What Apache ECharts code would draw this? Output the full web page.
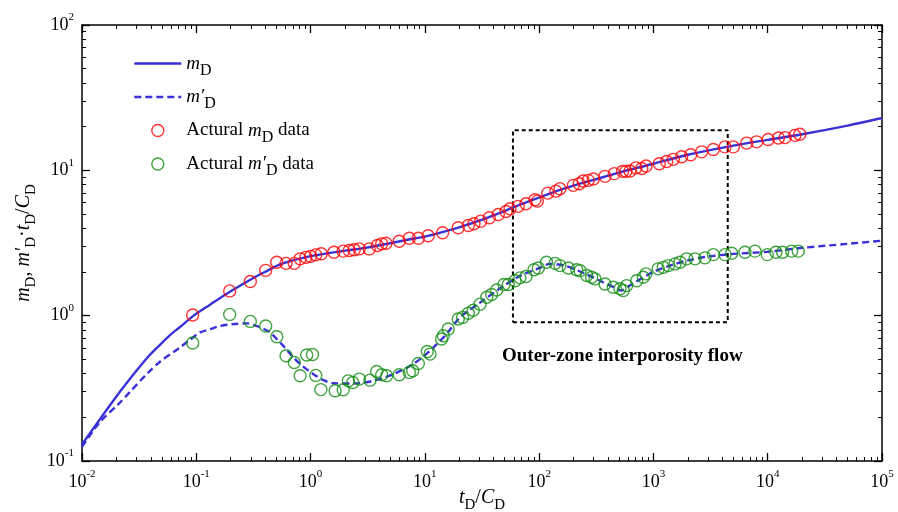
<!DOCTYPE html>
<html>
<head>
<meta charset="utf-8">
<script src="https://cdn.jsdelivr.net/npm/echarts@6/dist/echarts.min.js"></script>
<style>
  html, body { margin: 0; padding: 0; background: #fff; }
  #chart { width: 898px; height: 512px; }
</style>
</head>
<body>
<div id="chart"></div>
<script>
// Axis ranges (log scales)
const xRange = [0.01, 1e5];
const yRange = [0.1, 100];

// Model curve m_D  [tD/CD, mD]
const mdCurve = [
  [0.01, 0.13], [0.0187, 0.259], [0.0263, 0.368], [0.0371, 0.512], [0.0481, 0.63],
  [0.0589, 0.735], [0.072, 0.835], [0.0935, 0.993], [0.132, 1.19], [0.197, 1.46],
  [0.333, 1.86], [0.42, 2.04], [0.54, 2.25], [0.7, 2.4], [1.0, 2.57], [2.0, 2.8],
  [3.0, 2.93], [5.0, 3.15], [7.0, 3.33], [10, 3.5], [15, 3.8], [20, 4.05],
  [30, 4.5], [50, 5.25], [70, 5.85], [100, 6.5], [150, 7.3], [200, 7.85],
  [300, 8.6], [500, 9.65], [1000, 11.1], [2000, 12.8], [5000, 14.8],
  [10000, 16.2], [20000, 17.7], [50000, 20.3], [100000, 22.9]
];

// Model derivative curve m'_D·tD/CD
const dmdCurve = [
  [0.01, 0.125], [0.0144, 0.186], [0.0208, 0.246], [0.0263, 0.299], [0.0368, 0.396],
  [0.0481, 0.482], [0.072, 0.604], [0.0881, 0.683], [0.108, 0.767], [0.132, 0.807],
  [0.161, 0.85], [0.21, 0.875], [0.276, 0.885], [0.35, 0.84], [0.44, 0.77],
  [0.506, 0.69], [0.6, 0.6], [0.7, 0.52], [0.85, 0.45], [1.06, 0.396],
  [1.3, 0.36], [1.58, 0.343], [2.34, 0.341], [3.54, 0.356], [5.3, 0.396],
  [7.92, 0.465], [11.1, 0.574], [15.5, 0.748], [20.3, 0.973], [30, 1.22],
  [50, 1.62], [70, 1.9], [100, 2.12], [124, 2.27], [170, 2.2], [250, 1.95],
  [350, 1.72], [450, 1.57], [520, 1.49], [650, 1.65], [1000, 2.0], [1500, 2.25],
  [2000, 2.4], [3000, 2.55], [5000, 2.66], [10000, 2.75], [20000, 2.93],
  [50000, 3.12], [100000, 3.28]
];

// Measured m_D data
const mdData = [
  [0.093, 1.01], [0.196, 1.48], [0.297, 1.72], [0.405, 2.05], [0.506, 2.33],
  [0.61, 2.29], [0.72, 2.29], [0.81, 2.46], [0.91, 2.52], [1.0, 2.56],
  [1.11, 2.62], [1.24, 2.67], [1.60, 2.73], [1.93, 2.78], [2.18, 2.81],
  [2.41, 2.84], [2.67, 2.88], [3.26, 2.88], [3.84, 3.04], [4.19, 3.12],
  [4.57, 3.15], [5.97, 3.25], [7.31, 3.41], [8.77, 3.41], [10.7, 3.55],
  [14.3, 3.72], [19.6, 4.03], [24.0, 4.17], [26.9, 4.29], [30.8, 4.47],
  [36.6, 4.72], [43.9, 4.97], [51.3, 5.21], [55.6, 5.44], [65.6, 5.65],
  [76.7, 5.89], [92.0, 6.28], [96.4, 6.14], [119, 6.97], [140, 7.19],
  [152, 7.48], [199, 7.88], [224, 8.09], [243, 8.44], [269, 8.53],
  [298, 8.71], [377, 9.09], [454, 9.49], [538, 9.84], [575, 9.84],
  [624, 9.89], [703, 10.4], [790, 10.3], [861, 10.7], [1125, 11.1],
  [1306, 11.5], [1493, 11.9], [1766, 12.4], [2118, 12.8], [2644, 13.4],
  [3342, 13.9], [4227, 14.5], [5000, 14.5], [6546, 15.4], [8000, 15.7],
  [10100, 16.3], [12400, 16.7], [14200, 16.8], [17300, 17.4], [19100, 17.7]
];

// Measured m'_D data
const dmdData = [
  [0.093, 0.648], [0.196, 1.02], [0.297, 0.913], [0.405, 0.849], [0.506, 0.716],
  [0.61, 0.530], [0.72, 0.476], [0.81, 0.386], [0.925, 0.536], [1.04, 0.541],
  [1.11, 0.388], [1.23, 0.310], [1.64, 0.304], [1.93, 0.309], [2.14, 0.356],
  [2.34, 0.347], [2.67, 0.366], [3.31, 0.360], [3.79, 0.413], [4.19, 0.392],
  [4.63, 0.386], [5.97, 0.392], [7.31, 0.407], [7.83, 0.418], [8.77, 0.469],
  [10.5, 0.567], [11.1, 0.544], [14.0, 0.691], [14.5, 0.728], [16.0, 0.809],
  [19.6, 0.949], [21.4, 0.973], [24.0, 1.04], [26.5, 1.09], [30.4, 1.20],
  [34.8, 1.34], [38.4, 1.40], [42.5, 1.50], [49.2, 1.64], [53.7, 1.64],
  [61.5, 1.74], [67.9, 1.82], [76.7, 1.86], [90.2, 2.07], [98.4, 2.13],
  [116, 2.33], [138, 2.29], [152, 2.21], [180, 2.13], [213, 2.07],
  [228, 2.04], [261, 1.89], [288, 1.84], [308, 1.79], [377, 1.65],
  [445, 1.57], [510, 1.53], [545, 1.49], [583, 1.61], [714, 1.74],
  [815, 1.84], [861, 1.94], [1102, 2.10], [1220, 2.15], [1349, 2.21],
  [1545, 2.27], [1708, 2.33], [1954, 2.46], [2312, 2.46], [2825, 2.50],
  [3342, 2.63], [4227, 2.63], [4842, 2.69], [6324, 2.73], [7740, 2.78],
  [9910, 2.63], [11800, 2.73], [13500, 2.73], [16200, 2.78], [18500, 2.78]
];

// Highlighted region (outer-zone interporosity flow)
const regionBox = [[59, 0.9], [4470, 0.9], [4470, 18.9], [59, 18.9], [59, 0.9]];
const regionText = 'Outer-zone interporosity flow';

// Legend labels
const legendNames = ['md', 'dmd', 'mdData', 'dmdData'];
const legendLabels = {
  md: '{i|m}{s|D}',
  dmd: '{i|m\u2032}{s|D}',
  mdData: '{n|Actural }{i|m}{s|D}{n| data}',
  dmdData: '{n|Actural }{i|m\u2032}{s|D}{n| data}'
};

const SERIF = '"Liberation Serif", "Times New Roman", serif';
const BLUE = '#3a32d8';
const RED = '#ff0000';
const GREEN = '#128c12';

function textRich(size, subSize, lineH) {
  return {
    i: { fontFamily: SERIF, fontStyle: 'italic', fontSize: size, lineHeight: lineH, color: '#000' },
    n: { fontFamily: SERIF, fontSize: size, lineHeight: lineH, color: '#000' },
    s: { fontFamily: SERIF, fontSize: subSize, verticalAlign: 'bottom', color: '#000' }
  };
}

const tickRich = {
  b: { fontFamily: SERIF, fontSize: 18, lineHeight: 26, color: '#000' },
  e: { fontFamily: SERIF, fontSize: 11, verticalAlign: 'top', color: '#000' }
};
function powerLabel(v) {
  const e = Math.round(Math.log10(v));
  return '{b|10}{e|' + e + '}';
}

// minor tick positions for 2..9 × 10^k, expressed on a log10 value axis
function minorTicks(lo, hi) {
  const out = [];
  for (let e = lo; e < hi; e++) {
    for (let k = 2; k <= 9; k++) out.push(Math.log10(k) + e);
  }
  return out;
}

const frameLine = { show: true, onZero: false, lineStyle: { color: '#000', width: 1.5 } };
const majorTick = { show: true, inside: true, length: 8, lineStyle: { color: '#000', width: 1.3 } };

function minorAxis(pos, lo, hi) {
  return {
    type: 'value', position: pos, min: lo, max: hi, gridIndex: 0,
    axisLine: { show: false, onZero: false },
    axisLabel: { show: false },
    splitLine: { show: false },
    axisTick: { show: true, inside: true, length: 4, customValues: minorTicks(lo, hi),
                lineStyle: { color: '#000', width: 1 } }
  };
}

const hiddenMarker = { color: 'rgba(0,0,0,0)', borderWidth: 0, opacity: 0 };

const chart = echarts.init(document.getElementById('chart'));

chart.setOption({
  animation: false,
  backgroundColor: '#fff',
  grid: { left: 82, right: 16, top: 25, bottom: 51, containLabel: false, outerBoundsMode: 'none' },
  xAxis: [
    {
      type: 'log', logBase: 10, min: xRange[0], max: xRange[1], position: 'bottom',
      axisLine: frameLine, axisTick: majorTick, splitLine: { show: false },
      axisLabel: { formatter: powerLabel, rich: tickRich, margin: 8 },
      name: '{i|t}{s|D}{n|/}{i|C}{s|D}', nameLocation: 'middle', nameGap: 22,
      nameMoveOverlap: false,
      nameTextStyle: { rich: textRich(20, 15, 30) }
    },
    {
      type: 'log', logBase: 10, min: xRange[0], max: xRange[1], position: 'top',
      axisLine: frameLine, axisTick: majorTick, splitLine: { show: false },
      axisLabel: { show: false }
    },
    minorAxis('bottom', Math.log10(xRange[0]), Math.log10(xRange[1])),
    minorAxis('top', Math.log10(xRange[0]), Math.log10(xRange[1]))
  ],
  yAxis: [
    {
      type: 'log', logBase: 10, min: yRange[0], max: yRange[1], position: 'left',
      axisLine: frameLine, axisTick: majorTick, splitLine: { show: false },
      axisLabel: { formatter: powerLabel, rich: tickRich, margin: 8 },
      name: '{i|m}{s|D}{n|, }{i|m\u2032}{s|D}{n|\u00b7}{i|t}{s|D}{n|/}{i|C}{s|D}',
      nameLocation: 'middle', nameGap: 43, nameRotate: 90,
      nameMoveOverlap: false,
      nameTextStyle: { rich: textRich(20, 15, 30) }
    },
    {
      type: 'log', logBase: 10, min: yRange[0], max: yRange[1], position: 'right',
      axisLine: frameLine, axisTick: majorTick, splitLine: { show: false },
      axisLabel: { show: false }
    },
    minorAxis('left', Math.log10(yRange[0]), Math.log10(yRange[1])),
    minorAxis('right', Math.log10(yRange[0]), Math.log10(yRange[1]))
  ],
  legend: {
    orient: 'vertical', left: 133, top: 54, padding: 0, itemGap: 9,
    itemWidth: 47, itemHeight: 12,
    data: [
      { name: 'md', itemStyle: hiddenMarker, lineStyle: { color: BLUE, width: 2.6, type: 'solid' } },
      { name: 'dmd', itemStyle: hiddenMarker, lineStyle: { color: BLUE, width: 2.6, type: [7, 4] } },
      { name: 'mdData', icon: 'circle', itemStyle: { color: 'rgba(0,0,0,0)', borderColor: RED, borderWidth: 1.4 } },
      { name: 'dmdData', icon: 'circle', itemStyle: { color: 'rgba(0,0,0,0)', borderColor: GREEN, borderWidth: 1.4 } }
    ],
    formatter: name => legendLabels[name],
    textStyle: { rich: textRich(19, 16, 30) }
  },
  series: [
    {
      name: 'md', type: 'line', data: mdCurve, xAxisIndex: 0, yAxisIndex: 0, color: BLUE,
      symbol: 'none', smooth: 0.3, lineStyle: { color: BLUE, width: 2.4 }, z: 2
    },
    {
      name: 'dmd', type: 'line', data: dmdCurve, xAxisIndex: 0, yAxisIndex: 0, color: BLUE,
      symbol: 'none', smooth: 0.3, lineStyle: { color: BLUE, width: 2.4, type: [7, 4] }, z: 2
    },
    {
      name: 'box', type: 'line', data: regionBox, xAxisIndex: 0, yAxisIndex: 0, color: '#000',
      symbol: 'none', silent: true, lineStyle: { color: '#000', width: 2, type: [4, 3] }, z: 3
    },
    {
      name: 'mdData', type: 'scatter', data: mdData, xAxisIndex: 0, yAxisIndex: 0,
      symbol: 'circle', symbolSize: 12,
      itemStyle: { color: 'rgba(0,0,0,0)', borderColor: RED, borderWidth: 1.4 }, z: 4
    },
    {
      name: 'dmdData', type: 'scatter', data: dmdData, xAxisIndex: 0, yAxisIndex: 0,
      symbol: 'circle', symbolSize: 12,
      itemStyle: { color: 'rgba(0,0,0,0)', borderColor: GREEN, borderWidth: 1.4 }, z: 4
    }
  ],
  graphic: [
    {
      type: 'text', left: 502, top: 347,
      style: { text: regionText, font: 'bold 19px ' + SERIF, fill: '#000' }
    }
  ]
});
</script>
</body>
</html>
